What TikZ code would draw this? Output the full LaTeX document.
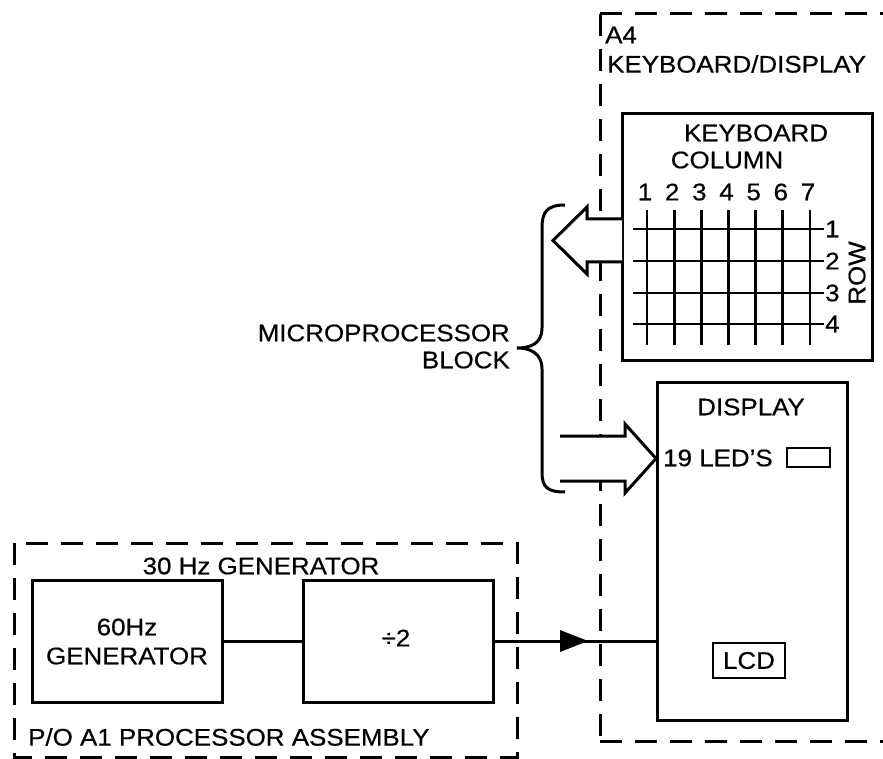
\documentclass[tikz,border=0pt]{standalone}
\usepackage{fontspec}
\setmainfont{Liberation Sans}[FakeStretch=1.08, FakeBold=0.5]
\begin{document}
\begin{tikzpicture}[x=1pt,y=-1pt,
  lbl/.style={font=\fontsize{24}{28}\selectfont, inner sep=0pt},
  box/.style={draw, line width=3pt, inner sep=0pt},
  dsh/.style={line width=3pt, dash pattern=on 22pt off 13pt},
  wire/.style={line width=3pt},
  gridln/.style={line width=2.8pt}]
\useasboundingbox (0,0) rectangle (883,759);

% dashed enclosures
\draw[dsh] (600,14) -- (883,14);
\draw[dsh] (600,14) -- (600,741);
\draw[dsh] (600,741) -- (883,741);
\draw[dsh] (14,543) rectangle (517,757);

% labels of enclosures
\node[lbl, anchor=west] (a4) at (605,35) {A4};
\node[lbl, anchor=west] (kd) at (607,64) {KEYBOARD/DISPLAY};
\node[lbl] (thirty) at (261,566) {30 Hz GENERATOR};
\node[lbl, anchor=west] (po) at (28,737) {P/O A1 PROCESSOR ASSEMBLY};

% boxes
\node[box, minimum width=190pt, minimum height=122pt] (gen) at (127,641) {};
\node[lbl] (genA) at (127,627) {60Hz};
\node[lbl] (genB) at (127,656) {GENERATOR};
\node[box, minimum width=190pt, minimum height=122pt] (div) at (398,641) {};
\node[lbl] (divt) at (396,638) {÷2};

\node[box, minimum width=250pt, minimum height=246pt] (kb) at (747,237) {};
\node[lbl] (kbt) at (756,133) {KEYBOARD};
\node[lbl] (colt) at (727,160) {COLUMN};

\node[box, minimum width=190pt, minimum height=338pt] (disp) at (752,551) {};
\node[lbl] (dispt) at (751,407) {DISPLAY};
\node[lbl, anchor=west] (ledt) at (663,458) {19 LED\char39 S};
\node[draw, line width=2.6pt, minimum width=43pt, minimum height=19pt, inner sep=0pt] (led) at (808.5,457.5) {};
\node[box, lbl, draw, line width=2.6pt, minimum width=72pt, minimum height=35pt] (lcd) at (749,660.5) {LCD};

% keyboard grid
\foreach \i in {0,...,6}{
  \pgfmathsetmacro{\xx}{647+27.17*\i}
  \draw[gridln] (\xx,210) -- (\xx,345);
  \pgfmathtruncatemacro{\nn}{\i+1}
  \node[lbl] (c\nn) at (\xx-2,192) {\nn};
}
\foreach \y/\n in {229/1,261/2,293/3,324/4}{
  \draw[gridln] (633,\y) -- (824,\y);
  \node[lbl, anchor=west] (r\n) at (825,\y) {\n};
}
\node[lbl, rotate=90] (rowt) at (857,273) {ROW};

% bus arrows (hollow)
\filldraw[wire, fill=white] (622,219) -- (587,219) -- (587,207) -- (553,240.5)
  -- (587,274) -- (587,262) -- (622,262);
\filldraw[wire, fill=white] (560,436) -- (625,436) -- (625,424) -- (656,458.5)
  -- (625,493) -- (625,481) -- (560,481);

% brace
\draw[wire] (565,205) .. controls (547,205) and (542,212) .. (542,228) -- (542,328)
  .. controls (542,344) and (530,348) .. (517,348)
  .. controls (530,348) and (542,353) .. (542,369) -- (542,472)
  .. controls (542,487) and (547,492) .. (565,492);
\node[lbl, anchor=east] (mp) at (510,333) {MICROPROCESSOR};
\node[lbl, anchor=east] (blk) at (510,360) {BLOCK};

% signal path
\draw[wire] (gen.east) -- (div.west);
\draw[wire] (div.east) -- (div.east -| disp.west);
\fill (588,641) -- (560,630) -- (560,652) -- cycle;
\end{tikzpicture}
\end{document}
